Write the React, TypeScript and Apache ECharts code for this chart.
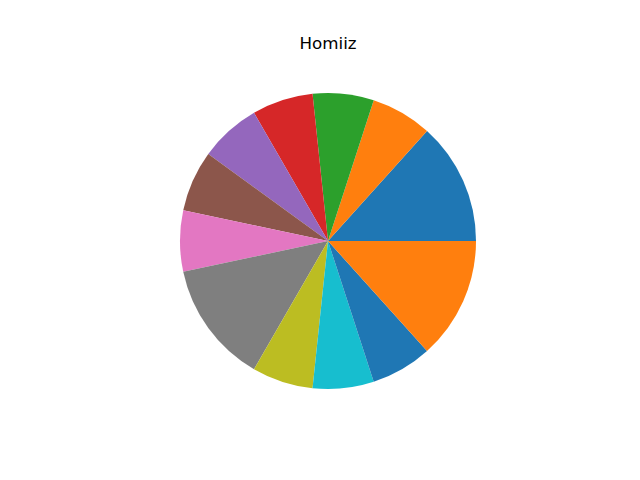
import React, { useEffect, useRef } from "react";
import * as echarts from "echarts";

const titleText = "Homiiz";
const categories = ["A", "B", "C", "D", "E", "F", "G", "H", "I", "J", "K", "L"];
const values = [2, 1, 1, 1, 1, 1, 1, 2, 1, 1, 1, 2];
const colors = [
  "#1f77b4", "#ff7f0e", "#2ca02c", "#d62728", "#9467bd", "#8c564b",
  "#e377c2", "#7f7f7f", "#bcbd22", "#17becf", "#1f77b4", "#ff7f0e",
];

export default function App() {
  const ref = useRef<HTMLDivElement>(null);
  useEffect(() => {
    if (!ref.current) return;
    const chart = echarts.init(ref.current, null, { renderer: "svg" });
    chart.setOption({
      animation: false,
      backgroundColor: "#ffffff",
      graphic: [
        {
          type: "text",
          x: 328,
          y: 43,
          style: {
            text: titleText,
            fontFamily: "DejaVu Sans",
            fontSize: 16.7,
            fill: "#000000",
            textAlign: "center",
            textVerticalAlign: "middle",
          },
        },
      ],
      series: [
        {
          type: "pie",
          center: [328, 241],
          radius: 148,
          startAngle: 0,
          clockwise: false,
          label: { show: false },
          labelLine: { show: false },
          emphasis: { disabled: true },
          itemStyle: { borderWidth: 0 },
          data: categories.map((c, i) => ({
            name: c,
            value: values[i],
            itemStyle: { color: colors[i] },
          })),
        },
      ],
    });
    return () => chart.dispose();
  }, []);
  return (
    <div
      ref={ref}
      style={{ width: 640, height: 480, position: "absolute", left: 0, top: 0 }}
    />
  );
}
